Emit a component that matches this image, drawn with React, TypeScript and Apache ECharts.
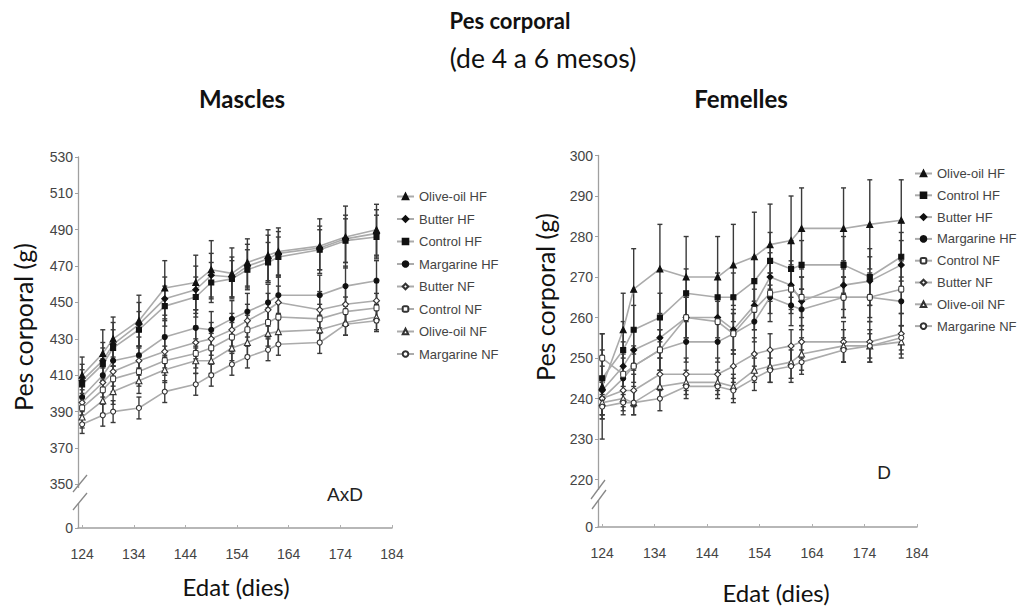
import React, { useEffect, useRef } from "react";
import * as echarts from "echarts";

// ---------- DATA ----------
const days = [124, 128, 130, 135, 140, 146, 149, 153, 156, 160, 162, 170, 175, 181];
const xTicks = [124, 134, 144, 154, 164, 174, 184];
const maleYTicks = [350, 370, 390, 410, 430, 450, 470, 490, 510, 530];
const femaleYTicks = [220, 230, 240, 250, 260, 270, 280, 290, 300];

const maleNames = ["Olive-oil HF", "Butter HF", "Control HF", "Margarine HF", "Butter NF", "Control NF", "Olive-oil NF", "Margarine NF"];
const femaleNames = ["Olive-oil HF", "Control HF", "Butter HF", "Margarine HF", "Control NF", "Butter NF", "Olive-oil NF", "Margarine NF"];

// Mascles (g)
const mOliveHF = [410, 422, 430, 440, 458, 461, 468, 466, 472, 476, 478, 481, 486, 490];
const mButterHF = [407, 418, 427, 438, 452, 457, 465, 464, 470, 474, 477, 480, 485, 488];
const mControlHF = [405, 416, 425, 435, 448, 453, 461, 463, 468, 472, 475, 479, 484, 486];
const mMargarineHF = [398, 410, 418, 421, 431, 436, 435, 441, 445, 450, 454, 454, 459, 462];
const mButterNF = [395, 406, 412, 418, 423, 428, 430, 435, 440, 446, 450, 446, 449, 451];
const mControlNF = [392, 402, 408, 412, 418, 422, 425, 431, 435, 439, 442, 441, 445, 447];
const mOliveNF = [387, 396, 401, 407, 413, 418, 418, 425, 428, 433, 434, 435, 439, 442];
const mMargarineNF = [383, 388, 390, 392, 401, 405, 410, 416, 420, 424, 427, 428, 438, 440];

const mOliveHFErr = [10, 13, 12, 14, 15, 15, 16, 14, 13, 14, 13, 15, 17, 14];
const mButterHFErr = [9, 10, 12, 12, 12, 13, 12, 11, 12, 13, 12, 12, 13, 13];
const mControlHFErr = [8, 9, 10, 10, 11, 11, 11, 10, 11, 11, 11, 11, 12, 12];
const mMargarineHFErr = [8, 9, 9, 10, 10, 10, 10, 10, 10, 10, 10, 11, 11, 11];
const mButterNFErr = [7, 8, 8, 8, 9, 9, 9, 9, 9, 9, 9, 10, 10, 10];
const mControlNFErr = [6, 7, 7, 8, 8, 8, 8, 8, 8, 8, 8, 8, 8, 8];
const mOliveNFErr = [6, 7, 7, 7, 7, 7, 7, 7, 7, 7, 7, 7, 7, 7];
const mMargarineNFErr = [5, 6, 6, 6, 6, 6, 6, 6, 6, 6, 6, 6, 6, 6];

// Femelles (g)
const fOliveHF = [243, 257, 267, 272, 270, 270, 273, 275, 278, 279, 282, 282, 283, 284];
const fControlHF = [245, 252, 257, 260, 266, 265, 265, 269, 274, 272, 273, 273, 270, 275];
const fButterHF = [242, 248, 252, 255, 260, 260, 257, 263, 270, 268, 264, 268, 269, 273];
const fMargarineHF = [240, 245, 248, 252, 254, 254, 256, 259, 265, 263, 262, 265, 265, 264];
const fControlNF = [250, 246, 248, 252, 260, 259, 256, 262, 266, 267, 265, 265, 265, 267];
const fButterNF = [240, 242, 242, 246, 246, 246, 248, 251, 252, 253, 254, 254, 254, 256];
const fOliveNF = [239, 240, 239, 243, 244, 244, 243, 247, 248, 249, 251, 253, 253, 254];
const fMargarineNF = [238, 239, 239, 240, 243, 243, 242, 245, 247, 248, 249, 252, 253, 255];

const fOliveHFErr = [13, 9, 10, 11, 10, 10, 10, 11, 10, 11, 10, 10, 11, 10];
const fControlHFErr = [7, 7, 6, 6, 6, 6, 6, 6, 7, 7, 6, 7, 7, 6];
const fButterHFErr = [6, 6, 5, 5, 5, 5, 5, 6, 6, 6, 6, 6, 6, 6];
const fMargarineHFErr = [5, 5, 4, 5, 5, 5, 5, 5, 6, 5, 5, 5, 5, 6];
const fControlNFErr = [6, 5, 5, 5, 5, 5, 5, 5, 5, 6, 5, 5, 6, 6];
const fButterNFErr = [4, 4, 4, 4, 4, 4, 4, 4, 4, 4, 4, 5, 5, 5];
const fOliveNFErr = [3, 3, 3, 3, 3, 3, 3, 3, 4, 4, 4, 4, 4, 4];
const fMargarineNFErr = [3, 3, 3, 3, 3, 3, 3, 3, 3, 4, 3, 3, 3, 3];

const maleValues: Record<string, number[]> = {
  "Olive-oil HF": mOliveHF, "Butter HF": mButterHF, "Control HF": mControlHF, "Margarine HF": mMargarineHF,
  "Butter NF": mButterNF, "Control NF": mControlNF, "Olive-oil NF": mOliveNF, "Margarine NF": mMargarineNF,
};
const maleErrors: Record<string, number[]> = {
  "Olive-oil HF": mOliveHFErr, "Butter HF": mButterHFErr, "Control HF": mControlHFErr, "Margarine HF": mMargarineHFErr,
  "Butter NF": mButterNFErr, "Control NF": mControlNFErr, "Olive-oil NF": mOliveNFErr, "Margarine NF": mMargarineNFErr,
};
const femaleValues: Record<string, number[]> = {
  "Olive-oil HF": fOliveHF, "Control HF": fControlHF, "Butter HF": fButterHF, "Margarine HF": fMargarineHF,
  "Control NF": fControlNF, "Butter NF": fButterNF, "Olive-oil NF": fOliveNF, "Margarine NF": fMargarineNF,
};
const femaleErrors: Record<string, number[]> = {
  "Olive-oil HF": fOliveHFErr, "Control HF": fControlHFErr, "Butter HF": fButterHFErr, "Margarine HF": fMargarineHFErr,
  "Control NF": fControlNFErr, "Butter NF": fButterNFErr, "Olive-oil NF": fOliveNFErr, "Margarine NF": fMargarineNFErr,
};

// ---------- STYLE ----------
const SANS = "'Liberation Sans', Arial, sans-serif";
const HUMAN = "Lato, 'Open Sans', sans-serif";

const symbolOf: Record<string, { symbol: string; size: number | number[]; filled: boolean }> = {
  "Olive-oil HF": { symbol: "triangle", size: 6, filled: true },
  "Butter HF": { symbol: "diamond", size: 6, filled: true },
  "Control HF": { symbol: "rect", size: 5, filled: true },
  "Margarine HF": { symbol: "circle", size: 5, filled: true },
  "Butter NF": { symbol: "diamond", size: 6, filled: false },
  "Control NF": { symbol: "roundRect", size: [5, 6], filled: false },
  "Olive-oil NF": { symbol: "triangle", size: 6, filled: false },
  "Margarine NF": { symbol: "circle", size: 5, filled: false },
};

function buildPanel(names: string[], values: Record<string, number[]>, errors: Record<string, number[]>, idx: number) {
  const series: any[] = [];
  const errData: number[][] = [];
  names.forEach((name) => {
    const st = symbolOf[name];
    const vals = values[name];
    const errs = errors[name];
    series.push({
      type: "line",
      name,
      xAxisIndex: idx,
      yAxisIndex: idx,
      data: days.map((d, i) => [d, vals[i]]),
      symbol: st.symbol,
      symbolSize: st.size,
      showAllSymbol: true,
      lineStyle: { color: "#ababab", width: 1.6 },
      itemStyle: {
        color: st.filled ? "#111" : "#fff",
        borderColor: st.filled ? "#111" : "#333",
        borderWidth: 1.1,
      },
      z: 3,
    });
    days.forEach((d, i) => errData.push([d, vals[i] - errs[i], vals[i] + errs[i]]));
  });
  series.unshift({
    type: "custom",
    name: "err" + idx,
    xAxisIndex: idx,
    yAxisIndex: idx,
    data: errData,
    encode: { x: 0, y: [1, 2] },
    z: 2,
    silent: true,
    renderItem: (_params: any, api: any) => {
      const x = api.value(0);
      const lo = api.coord([x, api.value(1)]);
      const hi = api.coord([x, api.value(2)]);
      const w = 2.5;
      const style = { stroke: "#3a3a3a", lineWidth: 1.4 };
      return {
        type: "group",
        children: [
          { type: "line", shape: { x1: lo[0], y1: lo[1], x2: hi[0], y2: hi[1] }, style },
          { type: "line", shape: { x1: hi[0] - w, y1: hi[1], x2: hi[0] + w, y2: hi[1] }, style },
          { type: "line", shape: { x1: lo[0] - w, y1: lo[1], x2: lo[0] + w, y2: lo[1] }, style },
        ],
      };
    },
  });
  return series;
}

function mkX(idx: number) {
  return {
    type: "value",
    gridIndex: idx,
    min: 123.2,
    max: 184,
    axisLine: { show: true, lineStyle: { color: "#a0a0a0", width: 1.5 } },
    axisTick: { show: true, length: 3, inside: true, customValues: xTicks, lineStyle: { color: "#b0b0b0" } },
    axisLabel: { customValues: xTicks, color: "#444", fontSize: 14, fontFamily: SANS, margin: 19 },
    splitLine: { show: false },
  };
}

function mkY(idx: number, min: number, max: number, ticks: number[]) {
  const vals = [min, ...ticks];
  return {
    type: "value",
    gridIndex: idx,
    min,
    max,
    axisLine: { show: true, lineStyle: { color: "#a0a0a0", width: 1.3 } },
    axisTick: { show: true, length: 3, customValues: vals, lineStyle: { color: "#a0a0a0" } },
    axisLabel: {
      customValues: vals,
      formatter: (v: number) => (Math.abs(v - min) < 0.01 ? "0" : String(v)),
      color: "#444",
      fontSize: 14,
      fontFamily: SANS,
      margin: 5,
    },
    splitLine: { show: false },
  };
}

function mkLegend(names: string[], left: number, top: number, gap: number) {
  return {
    orient: "vertical",
    left,
    top,
    padding: 0,
    data: names,
    itemWidth: 17,
    itemHeight: 7,
    itemGap: gap,
    itemTextGap: 3,
    selectedMode: false,
    textStyle: { color: "#444", fontSize: 13, fontFamily: SANS },
  };
}

const text = (t: string, x: number, y: number, size: number, bold = false, extra: any = {}) => ({
  type: "text",
  x,
  y,
  z: 100,
  ...extra,
  style: {
    text: t,
    fontSize: size,
    fontWeight: bold ? "bold" : "normal",
    fontFamily: HUMAN,
    fill: "#111",
    align: "center",
    verticalAlign: "middle",
  },
});

const slash = (x1: number, y1: number, x2: number, y2: number) => ({
  type: "line",
  z: 101,
  shape: { x1, y1, x2, y2 },
  style: { stroke: "#888", lineWidth: 1.3 },
});

export default function App() {
  const ref = useRef<HTMLDivElement>(null);
  useEffect(() => {
    if (!ref.current) return;
    const chart = echarts.init(ref.current, null, { renderer: "svg" });
    const option: any = {
      animation: false,
      backgroundColor: "#fff",
      grid: [
        { left: 78, top: 157, width: 314, height: 371 },
        { left: 598, top: 155.5, width: 319, height: 371.5 },
      ],
      xAxis: [mkX(0), mkX(1)],
      yAxis: [mkY(0, 326, 530, maleYTicks), mkY(1, 208.3, 300, femaleYTicks)],
      legend: [mkLegend(maleNames, 396, 190, 9.5), mkLegend(femaleNames, 914, 167, 8.8)],
      series: [
        ...buildPanel(maleNames, maleValues, maleErrors, 0),
        ...buildPanel(femaleNames, femaleValues, femaleErrors, 1),
      ],
      graphic: [
        text("Pes corporal", 510, 20, 22, true),
        text("(de 4 a 6 mesos)", 543, 58, 26.5),
        text("Mascles", 242, 98, 24, true),
        text("Femelles", 741, 98, 24, true),
        text("Pes corporal (g)", 23, 327, 25, false, { rotation: Math.PI / 2 }),
        text("Pes corporal (g)", 545, 297, 25, false, { rotation: Math.PI / 2 }),
        text("Edat (dies)", 236, 586, 24),
        text("Edat (dies)", 776, 592, 24),
        {
          type: "text", x: 345, y: 494, z: 100,
          style: { text: "AxD", fontSize: 19, fontFamily: SANS, fill: "#222", align: "center", verticalAlign: "middle" },
        },
        {
          type: "text", x: 884, y: 472, z: 100,
          style: { text: "D", fontSize: 19, fontFamily: SANS, fill: "#222", align: "center", verticalAlign: "middle" },
        },
        // axis breaks
        { type: "rect", z: 100, shape: { x: 75, y: 488, width: 6, height: 15 }, style: { fill: "#fff" } },
        slash(73, 492, 87, 475),
        slash(73, 510, 87, 493),
        { type: "rect", z: 100, shape: { x: 595, y: 490, width: 6, height: 10 }, style: { fill: "#fff" } },
        slash(591, 499, 605, 480),
        slash(592, 509, 606, 490),
      ],
    };
    chart.setOption(option);
    return () => chart.dispose();
  }, []);
  return <div ref={ref} style={{ position: "fixed", left: 0, top: 0, width: 1018, height: 610 }} />;
}
